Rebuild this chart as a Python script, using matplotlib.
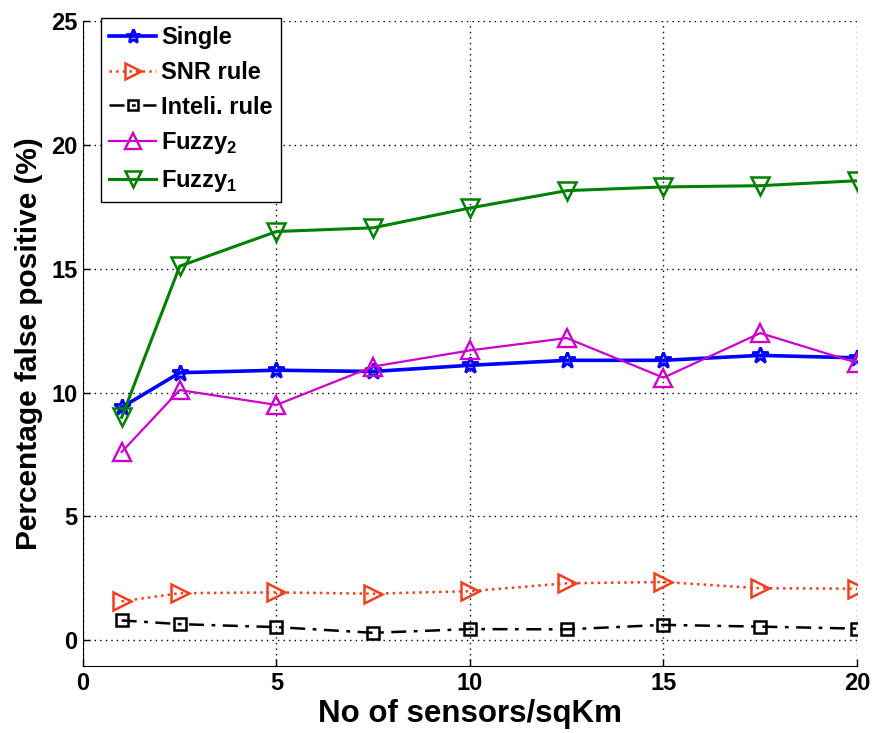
import numpy as np
import matplotlib.pyplot as plt

plt.rcParams['font.family'] = ['Liberation Sans', 'DejaVu Sans']
plt.rcParams['font.weight'] = 'bold'
plt.rcParams['mathtext.fontset'] = 'custom'
plt.rcParams['mathtext.rm'] = 'Liberation Sans:bold'
plt.rcParams['mathtext.bf'] = 'Liberation Sans:bold'

sensors = [1, 2.5, 5, 7.5, 10, 12.5, 15, 17.5, 20]
single = [9.4, 10.8, 10.9, 10.85, 11.1, 11.3, 11.3, 11.5, 11.4]
snr_rule = [1.57, 1.9, 1.93, 1.88, 1.98, 2.3, 2.35, 2.1, 2.08]
inteli_rule = [0.8, 0.65, 0.53, 0.3, 0.45, 0.44, 0.62, 0.55, 0.47]
fuzzy2 = [7.6, 10.1, 9.5, 11.05, 11.7, 12.2, 10.6, 12.4, 11.2]
fuzzy1 = [9.0, 15.1, 16.5, 16.65, 17.45, 18.15, 18.3, 18.35, 18.55]

fig = plt.figure(figsize=(8.76, 7.33), dpi=100)
ax = fig.add_axes([0.0947, 0.0914, 0.8836, 0.880])

ax.plot(sensors, single, color='b', linestyle='-', linewidth=2.6, marker='*',
        markersize=12, markerfacecolor='none', markeredgewidth=2.0, label='Single')
ax.plot(sensors, snr_rule, color='#f0401c', linestyle=':', linewidth=1.8, marker='>',
        markersize=13, markerfacecolor='none', markeredgewidth=1.8, label='SNR rule')
ax.plot(sensors, inteli_rule, color='k', linestyle=(0, (6, 3, 1.5, 3)), linewidth=1.8,
        marker='s', markersize=9, markerfacecolor='none', markeredgewidth=1.8,
        label='Inteli. rule')
ax.plot(sensors, fuzzy2, color='#cc00cc', linestyle='-', linewidth=1.6, marker='^',
        markersize=13, markerfacecolor='none', markeredgewidth=1.7, label='Fuzzy$_{2}$')
ax.plot(sensors, fuzzy1, color='#008000', linestyle='-', linewidth=2.2, marker='v',
        markersize=13, markerfacecolor='none', markeredgewidth=1.8, label='Fuzzy$_{1}$')

ax.set_xlim(0, 20)
ax.set_ylim(-1.04, 25)
ax.set_xticks([0, 5, 10, 15, 20])
ax.set_yticks([0, 5, 10, 15, 20, 25])
ax.spines['top'].set_visible(False)
ax.spines['right'].set_visible(False)
ax.tick_params(labelsize=17, direction='in', length=5, width=1, pad=4)
for lbl in ax.get_xticklabels() + ax.get_yticklabels():
    lbl.set_fontweight('bold')
ax.grid(True, color='k', linestyle=(0, (1, 3)), linewidth=1.0)
ax.set_xlabel('No of sensors/sqKm', fontsize=22.5, fontweight='bold', labelpad=3)
ax.set_ylabel('Percentage false positive (%)', fontsize=21.5, fontweight='bold', labelpad=6)

leg = ax.legend(loc='upper left', bbox_to_anchor=(0.023, 1.005), frameon=True,
                fancybox=False, edgecolor='k', framealpha=1, handlelength=2.0,
                handletextpad=0.2, borderpad=0.35, labelspacing=0.5, borderaxespad=0,
                markerscale=0.85, prop={'weight': 'bold', 'size': 17})
leg.get_frame().set_linewidth(1.0)

fig.savefig('out.png', dpi=100)
